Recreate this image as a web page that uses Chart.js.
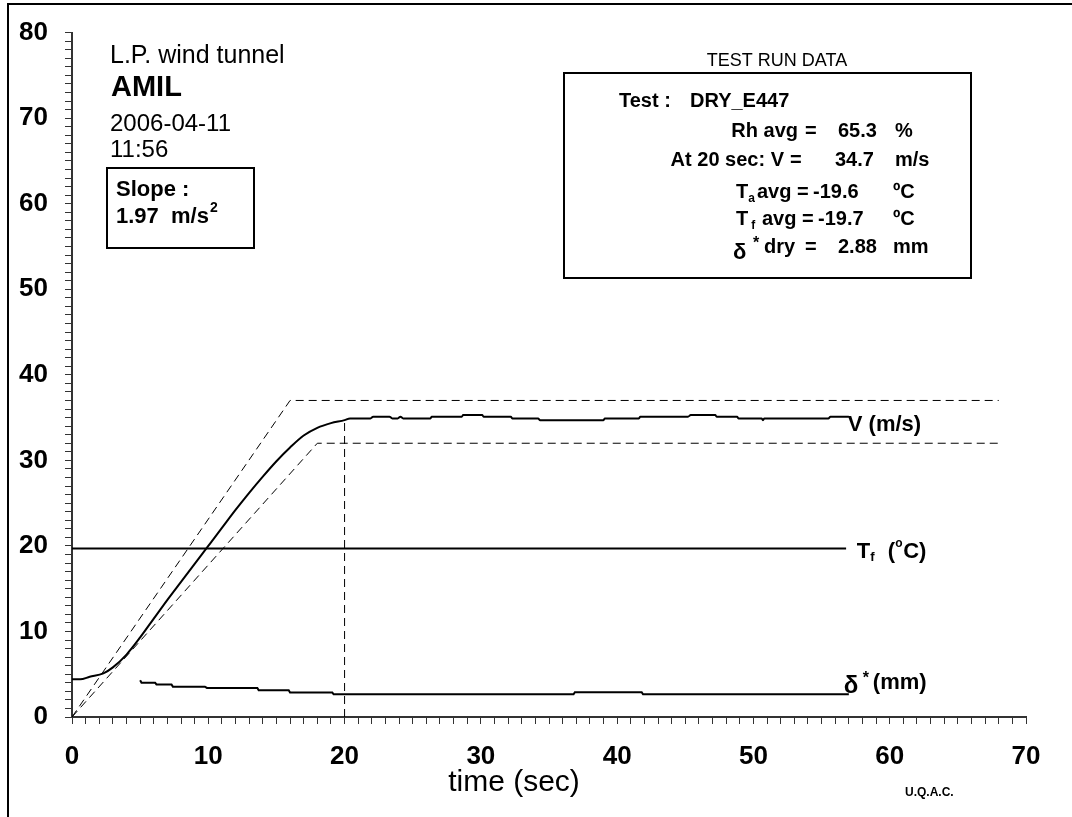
<!DOCTYPE html>
<html>
<head>
<meta charset="utf-8">
<script src="https://cdn.jsdelivr.net/npm/chart.js@4.4.1/dist/chart.umd.min.js"></script>
<style>
  body { margin: 0; background: #fff; }
  #wrap { width: 1072px; height: 817px; }
</style>
</head>
<body>
<div id="wrap"><canvas id="tunnel" width="1072" height="817"></canvas></div>
<script>
// air speed V (m/s) vs time (sec)
var vTime  = [0, 0.6, 1.3, 2.3, 3.0, 4.0, 5.0, 6.0, 7.0, 8.0, 9.0, 10.0, 11.0, 12.0, 13.0, 14.0, 15.0, 16.0, 17.0, 18.0, 19.0, 20.0,
              20.4, 21.9, 22.1, 23.3, 23.5, 23.9, 24.1, 24.3, 26.3, 26.4, 28.6, 28.7, 30.1, 30.2, 32.2, 32.3, 34.2, 34.35,
              39.0, 39.1, 41.6, 41.7, 45.2, 45.4, 47.2, 47.3, 48.8, 48.9, 50.6, 50.7, 50.8, 55.5, 55.65, 57.0];
var vSpeed = [4.4, 4.4, 4.7, 5.1, 5.8, 7.3, 9.3, 11.5, 13.7, 15.8, 17.9, 20.0, 22.1, 24.2, 26.2, 28.1, 29.9, 31.5, 32.9, 33.8, 34.35, 34.7,
              34.9, 34.9, 35.1, 35.1, 34.9, 34.9, 35.1, 34.9, 34.9, 35.1, 35.1, 35.3, 35.3, 35.1, 35.1, 34.9, 34.9, 34.7,
              34.7, 34.9, 34.9, 35.1, 35.1, 35.3, 35.3, 35.1, 35.1, 34.9, 34.9, 34.7, 34.9, 34.9, 35.1, 35.1];

// film temperature Tf (plotted as magnitude)
var tfTime = [0, 56.8];
var tfTemp = [19.7, 19.7];

// displacement thickness delta* (mm)
var dTime  = [5.0, 5.1, 6.1, 6.2, 7.3, 7.4, 9.75, 9.9, 13.6, 13.7, 15.9, 16.0, 19.1, 19.2, 36.8, 36.9, 41.8, 41.9, 57.0];
var dThick = [4.3, 4.0, 4.0, 3.8, 3.8, 3.55, 3.55, 3.4, 3.4, 3.13, 3.13, 2.86, 2.86, 2.65, 2.65, 2.9, 2.9, 2.65, 2.65];

// acceleration envelope and 20 s marker
var upperTime = [0, 16, 68];
var upperSpeed = [0, 37, 37];
var lowerTime = [0, 18, 68];
var lowerSpeed = [0, 32, 32];
var markTime = [20, 20];
var markSpeed = [0, 34.7];

var xMax = 70, yMax = 80;
var FONT = '"Liberation Sans", Arial, sans-serif';

var pts = function(xs, ys) {
  return xs.map(function(x, i) { return { x: x, y: ys[i] }; });
};

var solid = function(xs, ys, smooth) {
  return {
    data: pts(xs, ys), borderColor: '#000', borderWidth: 2, pointRadius: 0, showLine: true,
    cubicInterpolationMode: smooth ? 'monotone' : 'default', tension: 0
  };
};
var dashed = function(xs, ys) {
  return { data: pts(xs, ys), borderColor: '#000', borderWidth: 1, borderDash: [8, 5], pointRadius: 0, showLine: true, tension: 0 };
};

var put = function(ctx, str, x, y, size, bold, align) {
  ctx.font = (bold ? 'bold ' : '') + size + 'px ' + FONT;
  ctx.textAlign = align || 'left';
  ctx.fillText(str, x, y);
  return x + ctx.measureText(str).width;
};

var notes = {
  id: 'notes',
  beforeDraw: function(chart) {
    var ctx = chart.ctx;
    ctx.save();
    ctx.fillStyle = '#fff';
    ctx.fillRect(0, 0, chart.width, chart.height);
    // outer frame (left and top edges)
    ctx.strokeStyle = '#000';
    ctx.lineWidth = 2;
    ctx.beginPath();
    ctx.moveTo(8, chart.height);
    ctx.lineTo(8, 4);
    ctx.lineTo(chart.width, 4);
    ctx.stroke();
    ctx.restore();
  },
  afterDraw: function(chart) {
    var ctx = chart.ctx;
    var xs = chart.scales.x, ys = chart.scales.y;
    ctx.save();
    ctx.fillStyle = '#000';
    ctx.strokeStyle = '#000';
    ctx.textBaseline = 'middle';

    // header, top left
    put(ctx, 'L.P. wind tunnel', 110, 56, 25, false);
    put(ctx, 'AMIL', 111, 88, 29, true);
    put(ctx, '2006-04-11', 110, 124, 24, false);
    put(ctx, '11:56', 110, 150, 24, false);

    ctx.lineWidth = 2;
    ctx.strokeRect(107, 168, 147, 80);
    put(ctx, 'Slope :', 116, 190, 22, true);
    var e = put(ctx, '1.97  m/s', 116, 217, 22, true);
    put(ctx, '2', e + 1, 208, 14, true);

    // test run summary box
    put(ctx, 'TEST RUN DATA', 777, 61, 18, false, 'center');
    ctx.strokeRect(564, 73, 407, 205);
    put(ctx, 'Test :', 619, 101, 20, true);
    put(ctx, 'DRY_E447', 690, 101, 20, true);

    put(ctx, 'Rh avg', 798, 131, 20, true, 'right');
    put(ctx, '=', 805, 131, 20, true);
    put(ctx, '65.3', 838, 131, 20, true);
    put(ctx, '%', 895, 131, 20, true);

    put(ctx, 'At 20 sec: V', 784, 160, 20, true, 'right');
    put(ctx, '=', 790, 160, 20, true);
    put(ctx, '34.7', 835, 160, 20, true);
    put(ctx, 'm/s', 895, 160, 20, true);

    e = put(ctx, 'T', 736, 192, 20, true);
    put(ctx, 'a', e, 199, 12, true);
    put(ctx, 'avg', 757, 192, 20, true);
    put(ctx, '=', 797, 192, 20, true);
    put(ctx, '-19.6', 813, 192, 20, true);
    put(ctx, '\u00baC', 893, 192, 20, true);

    e = put(ctx, 'T', 736, 219, 20, true);
    put(ctx, 'f', e + 3, 226, 12, true);
    put(ctx, 'avg', 762, 219, 20, true);
    put(ctx, '=', 802, 219, 20, true);
    put(ctx, '-19.7', 818, 219, 20, true);
    put(ctx, '\u00baC', 893, 219, 20, true);

    put(ctx, '\u03b4', 733, 253, 22, true);
    put(ctx, '*', 753, 244, 16, true);
    put(ctx, 'dry', 764, 247, 20, true);
    put(ctx, '=', 805, 247, 20, true);
    put(ctx, '2.88', 838, 247, 20, true);
    put(ctx, 'mm', 893, 247, 20, true);

    // series labels at the end of each trace
    var endX = xs.getPixelForValue(57);
    put(ctx, 'V (m/s)', endX - 1, ys.getPixelForValue(34.1), 22, true);
    e = put(ctx, 'T', endX + 8, ys.getPixelForValue(19.3), 22, true);
    put(ctx, 'f', e, ys.getPixelForValue(18.6), 13, true);
    e = put(ctx, '(', endX + 39, ys.getPixelForValue(19.3), 22, true);
    put(ctx, 'o', e, ys.getPixelForValue(20.3), 12, true);
    put(ctx, 'C)', e + 8, ys.getPixelForValue(19.3), 22, true);
    put(ctx, '\u03b4', endX - 5, ys.getPixelForValue(3.6), 24, true);
    put(ctx, '*', endX + 14, ys.getPixelForValue(4.5), 16, true);
    put(ctx, '(mm)', endX + 24, ys.getPixelForValue(4.0), 22, true);

    // axis title and credit
    put(ctx, 'time (sec)', 514, 783, 30, false, 'center');
    put(ctx, 'U.Q.A.C.', 905, 793, 12, true);
    ctx.restore();
  }
};

var axis = function(max, extra) {
  var s = {
    type: 'linear',
    min: 0,
    max: max,
    ticks: {
      stepSize: 1,
      autoSkip: false,
      maxRotation: 0,
      color: '#000',
      font: { family: FONT, size: 26, weight: 'bold' },
      callback: function(v) { return v % 10 === 0 ? v : ''; }
    },
    grid: { drawOnChartArea: false, tickLength: 7, color: '#333', lineWidth: 1 },
    border: { color: '#333', width: 2 }
  };
  return Object.assign(s, extra);
};

var xAxis = axis(xMax, { afterFit: function(s) { s.height = 100; } });
xAxis.ticks.padding = 17;
var yAxis = axis(yMax, { afterFit: function(s) { s.width = 72; } });
yAxis.ticks.padding = 17;

new Chart(document.getElementById('tunnel'), {
  type: 'scatter',
  data: {
    datasets: [
      dashed(upperTime, upperSpeed),
      dashed(lowerTime, lowerSpeed),
      dashed(markTime, markSpeed),
      solid(tfTime, tfTemp),
      solid(dTime, dThick),
      solid(vTime, vSpeed, true)
    ]
  },
  options: {
    responsive: false,
    animation: false,
    devicePixelRatio: 1,
    layout: { padding: { left: 0, top: 27, right: 46, bottom: 0 } },
    plugins: { legend: { display: false }, tooltip: { enabled: false } },
    scales: { x: xAxis, y: yAxis }
  },
  plugins: [notes]
});
</script>
</body>
</html>
